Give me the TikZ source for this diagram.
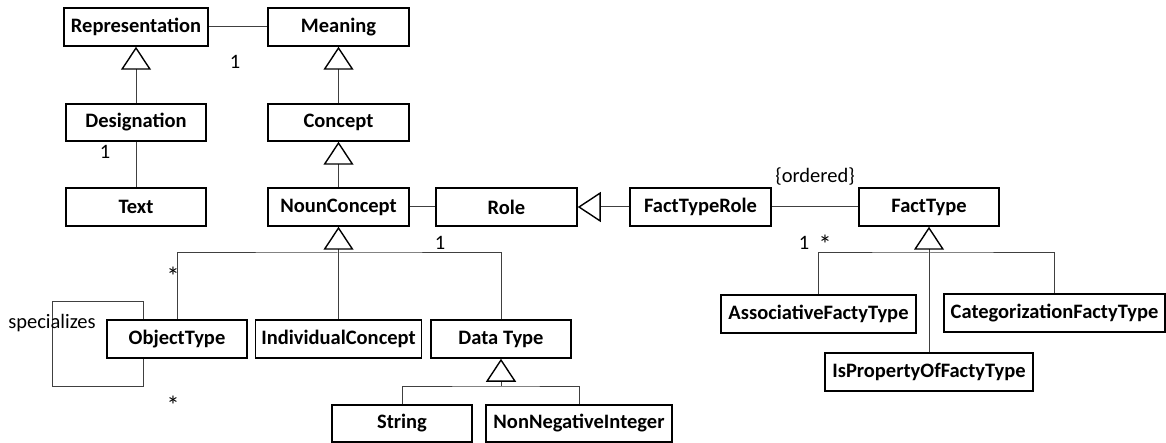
\documentclass[tikz,border=0pt]{standalone}
\usepackage{fontspec}
\setmainfont{Carlito}
\usetikzlibrary{arrows.meta}
\begin{document}
\begin{tikzpicture}[x=1pt,y=-1pt,
  cls/.style={draw=black, line width=1.5pt, fill=white, minimum height=38pt,
    inner sep=0pt, font=\fontsize{20.5}{24}\selectfont\bfseries},
  link/.style={draw=black!75, line width=1pt},
  gen/.style={link, -{Triangle[open, length=23pt, width=30pt, line width=1.4pt, color=black]}},
  lbl/.style={font=\fontsize{20.5}{24}\selectfont, inner sep=0pt, anchor=base},
  many/.style={font=\fontsize{26}{30}\selectfont, inner sep=0pt, anchor=base},
]
\useasboundingbox (0,0) rectangle (1166,443);

% classes
\node[cls, minimum width=144pt] (rep)  at (136,27)    {Representation};
\node[cls, minimum width=141pt] (mean) at (338.5,27)  {Meaning};
\node[cls, minimum width=140pt, minimum height=37pt] (desig) at (136,122.5) {Designation};
\node[cls, minimum width=140pt] (text) at (136,207)   {Text};
\node[cls, minimum width=141pt, minimum height=37pt] (conc) at (338.5,122.5) {Concept};
\node[cls, minimum width=141pt] (noun) at (338.5,207) {NounConcept};
\node[cls, minimum width=141pt] (role) at (506.5,207) {Role};
\node[cls, minimum width=141pt] (ftr)  at (700.5,207) {FactTypeRole};
\node[cls, minimum width=140pt] (ft)   at (929,207)   {FactType};
\node[cls, minimum width=140pt] (obj)  at (177,339)   {ObjectType};
\node[cls, minimum width=166pt] (ind)  at (338.5,339) {IndividualConcept};
\node[cls, minimum width=140pt] (dt)   at (501,339)   {Data Type};
\node[cls, minimum width=140pt, minimum height=37pt] (str) at (402,423.5) {String};
\node[cls, minimum width=186pt, minimum height=37pt] (nni) at (579,423.5) {NonNegativeInteger};
\node[cls, minimum width=195pt] (assoc) at (818.5,314) {AssociativeFactyType};
\node[cls, minimum width=221pt] (categ) at (1054.5,313) {CategorizationFactyType};
\node[cls, minimum width=208pt] (isprop) at (929,372) {IsPropertyOfFactyType};

% junction points of the generalization trees
\coordinate (ncJ) at (338.5,253);
\coordinate (dtJ) at (501,386);
\coordinate (ftJ) at (929,253);
% corners of the self association
\coordinate (loopR) at (143,302);
\coordinate (loopL) at (52,386);

% associations
\draw[link] (rep) -- (mean);
\draw[link] (desig) -- (text);
\draw[link] (noun) -- (role);
\draw[link] (ftr) -- (ft);
\draw[link] (loopR |- obj.north) -- (loopR) -| (loopL) -| (loopR |- obj.south);

% generalizations
\draw[gen] (desig) -- (rep);
\draw[gen] (conc) -- (mean);
\draw[gen] (noun) -- (conc);
\draw[gen] (ftr) -- (role);
\draw[link] (obj) |- (ncJ) -| (dt);
\draw[link] (ind) -- (ncJ);
\draw[gen] (ncJ) -- (noun);
\draw[link] (str) |- (dtJ) -| (nni);
\draw[gen] (dtJ) -- (dt);
\draw[link] (assoc) |- (ftJ) -| (categ);
\draw[link] (isprop) -- (ftJ);
\draw[gen] (ftJ) -- (ft);

% multiplicities and other labels
\node[lbl] (m1) at (235,68.5) {1};
\node[lbl] (m2) at (105,158.5) {1};
\node[many] (m3) at (173,286) {*};
\node[many] (m4) at (173,414) {*};
\node[lbl] (m5) at (440,249.5) {1};
\node[lbl] (m6) at (804,249.5) {1};
\node[many] (m7) at (825,254) {*};
\node[lbl] (ord) at (815,183) {\{ordered\}};
\node[lbl] (spec) at (52,328) {specializes};
\end{tikzpicture}
\end{document}
